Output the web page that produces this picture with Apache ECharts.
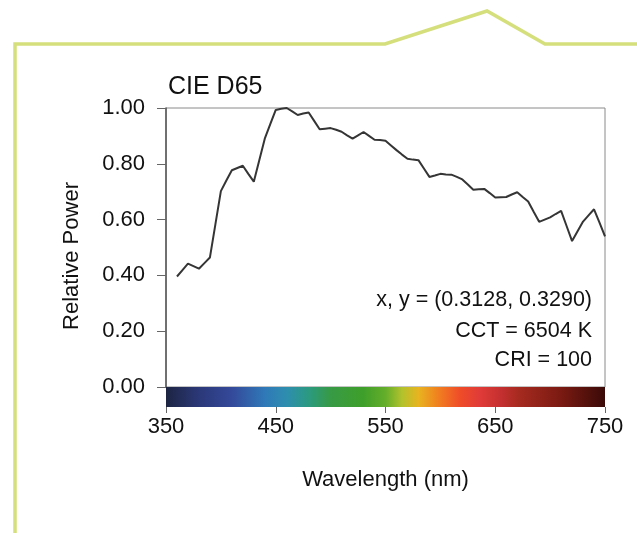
<!DOCTYPE html>
<html>
<head>
<meta charset="utf-8">
<script src="https://cdn.jsdelivr.net/npm/echarts@6/dist/echarts.min.js"></script>
<style>
html,body{margin:0;padding:0;background:#fff;}
#chart{width:637px;height:533px;}
</style>
</head>
<body>
<div id="chart"></div>
<script>
// Wavelengths (nm)
const wavelengths = [360,365,370,375,380,385,390,395,400,405,410,415,420,425,430,435,440,445,450,455,
  460,465,470,475,480,485,490,495,500,505,510,515,520,525,530,535,540,545,550,555,
  560,565,570,575,580,585,590,595,600,605,610,615,620,625,630,635,640,645,650,655,
  660,665,670,675,680,685,690,695,700,705,710,715,720,725,730,735,740,745,750];
// Relative power (normalized)
const relPower = [0.396,0.419,0.442,0.433,0.424,0.444,0.464,0.583,0.702,0.740,0.777,0.785,0.793,0.764,0.736,0.813,0.890,0.942,0.993,0.997,
  1.000,0.988,0.975,0.980,0.984,0.954,0.924,0.926,0.928,0.922,0.915,0.902,0.890,0.902,0.914,0.900,0.886,0.885,0.883,0.866,
  0.849,0.833,0.818,0.815,0.813,0.783,0.753,0.758,0.764,0.762,0.761,0.753,0.744,0.726,0.707,0.709,0.710,0.695,0.679,0.680,
  0.681,0.690,0.698,0.681,0.665,0.628,0.592,0.600,0.608,0.620,0.631,0.577,0.523,0.558,0.593,0.615,0.637,0.589,0.540];
const xTicks = [350, 450, 550, 650, 750];
const yTicks = [0.00, 0.20, 0.40, 0.60, 0.80, 1.00];
const annotations = ['x, y = (0.3128, 0.3290)', 'CCT = 6504 K', 'CRI = 100'];
const spectrumStops = [
  [350,'#1d2542'],[380,'#2b3878'],[410,'#34499a'],[440,'#2f79b8'],[460,'#2e8eae'],[480,'#2b9a80'],
  [500,'#379a45'],[530,'#3f9f2a'],[550,'#64ae2a'],[565,'#b2c22c'],[580,'#e8b420'],[598,'#f0801f'],
  [618,'#ef4c28'],[636,'#e03b38'],[655,'#c43030'],[672,'#a52a1f'],[710,'#7a1a12'],[750,'#3a0a08']
];

const FONT = "'Liberation Sans', Arial, sans-serif";
const chart = echarts.init(document.getElementById('chart'), null, {renderer:'canvas'});
const data = wavelengths.map((w,i)=>[w, relPower[i]]);
const xmin = xTicks[0], xmax = xTicks[xTicks.length-1];

const option = {
  backgroundColor:'#ffffff',
  animation:false,
  title:{
    text:'CIE D65', left:163, top:70,
    textStyle:{fontFamily:FONT, fontSize:25, fontWeight:'normal', color:'#111'}
  },
  grid:[
    {left:166, right:32, top:108, height:279, show:true, borderColor:'#8a8a8a', borderWidth:1, backgroundColor:'transparent'},
    {left:166, right:32, top:387, height:20, show:false}
  ],
  xAxis:[
    {gridIndex:0, type:'value', min:xmin, max:xmax, interval:100, show:false},
    {gridIndex:1, type:'value', min:xmin, max:xmax, interval:100,
      axisLine:{show:false}, splitLine:{show:false},
      axisTick:{show:true, length:6, lineStyle:{color:'#666'}},
      axisLabel:{margin:9, fontFamily:FONT, fontSize:22, color:'#111', formatter:(v)=>String(v)},
      name:'Wavelength (nm)', nameLocation:'middle', nameGap:62,
      nameTextStyle:{fontFamily:FONT, fontSize:22, color:'#111'}
    }
  ],
  yAxis:[
    {gridIndex:0, type:'value', min:yTicks[0], max:yTicks[yTicks.length-1], interval:0.2,
      axisLine:{show:true, lineStyle:{color:'#555', width:1.5}},
      axisTick:{show:true, length:9, lineStyle:{color:'#666'}},
      splitLine:{show:false},
      axisLabel:{margin:21, fontFamily:FONT, fontSize:22, color:'#111', formatter:(v)=>v.toFixed(2)}
    },
    {gridIndex:1, type:'value', min:0, max:1, show:false}
  ],
  series:[
    {type:'line', xAxisIndex:0, yAxisIndex:0, data:data, showSymbol:false, symbol:'none',
      lineStyle:{color:'#353535', width:2}, z:5},
    {type:'line', xAxisIndex:1, yAxisIndex:1, data:[], silent:true,
      markArea:{silent:true,
        itemStyle:{color:new echarts.graphic.LinearGradient(0,0,1,0,
          spectrumStops.map(s=>({offset:(s[0]-xmin)/(xmax-xmin), color:s[1]})))},
        data:[[{xAxis:xmin},{xAxis:xmax}]]
      }
    }
  ],
  graphic:[
    {type:'polyline', silent:true, shape:{points:[[15,533],[15,44],[385,44],[487,11],[545,44],[637,44]]},
      style:{stroke:'#d5df7c', lineWidth:3.5, fill:null}},
    {type:'text', x:72, y:256, rotation:Math.PI/2, silent:true,
      style:{text:'Relative Power', fontFamily:FONT, fontSize:22, fill:'#111', align:'center', verticalAlign:'middle'}},
    ...annotations.map((t,i)=>({type:'text', x:592, y:[300,331,360][i], silent:true,
      style:{text:t, fontFamily:FONT, fontSize:21.5, fill:'#111', align:'right', verticalAlign:'middle'}}))
  ]
};
chart.setOption(option);
</script>
</body>
</html>
